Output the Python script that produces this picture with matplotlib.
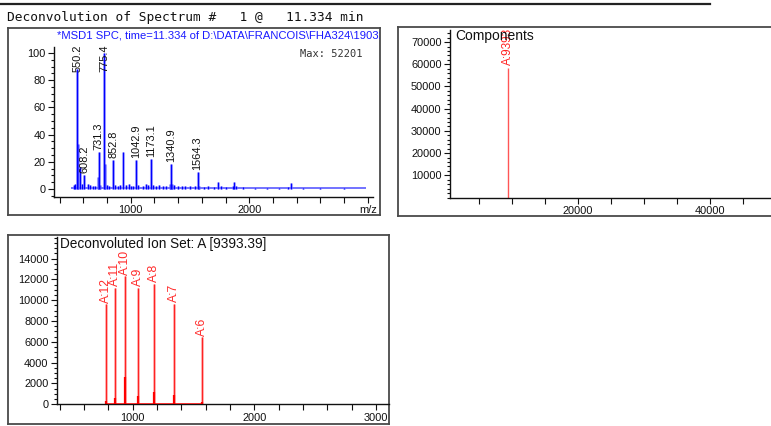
import matplotlib
matplotlib.use("Agg")
import matplotlib.pyplot as plt
from matplotlib.lines import Line2D
from matplotlib.ticker import MultipleLocator, FixedLocator, FixedFormatter

plt.rcParams["font.family"] = ["Liberation Sans", "DejaVu Sans"]

# ---------------- data ----------------
# raw MS spectrum, relative abundance (%), labelled peaks
peak_mz = [550.2, 608.2, 731.3, 775.4, 852.8, 1042.9, 1173.1, 1340.9, 1564.3]
peak_int = [88.0, 10.5, 27.5, 100.0, 21.0, 21.5, 22.0, 18.0, 12.5]
max_count = 52201

# unlabelled peaks and noise of the raw spectrum
minor_mz = [520, 531, 556, 572, 590, 641, 656, 681, 700, 722, 745, 785, 801,
            820, 870, 890, 910, 938, 960, 985, 1001, 1021, 1065, 1100, 1125,
            1150, 1190, 1210, 1240, 1270, 1300, 1330, 1350, 1366, 1400, 1430,
            1460, 1500, 1540, 1580, 1620, 1650, 1700, 1733, 1760, 1800, 1860,
            1874, 1890, 1950, 2050, 2150, 2250, 2330, 2349, 2450, 2600, 2800]
minor_int = [3.0, 4.0, 33.0, 16.0, 4.0, 4.0, 3.0, 2.5, 2.0, 9.0, 3.0, 18.0, 3.0,
             2.5, 3.0, 2.0, 3.0, 27.5, 3.0, 4.0, 2.5, 2.0, 3.0, 2.5, 4.0,
             3.0, 3.0, 2.0, 3.0, 2.5, 2.0, 4.0, 4.0, 3.0, 2.0, 2.5,
             2.0, 2.5, 2.0, 2.5, 1.5, 2.0, 1.5, 5.0, 2.0, 1.5, 2.5,
             5.0, 2.5, 1.5, 1.0, 1.0, 1.0, 1.5, 4.5, 1.0, 1.0, 1.0]
scan_range = [500, 2985]

# deconvolution result
component_mass = [9393.39]
component_int = [58500]
component_names = ["A:9393.39"]

# ion set A: charge-state ions
ion_names = ["A:12", "A:11", "A:10", "A:9", "A:8", "A:7", "A:6"]
ion_mz = [783.8, 855.0, 940.3, 1044.7, 1175.2, 1342.9, 1566.6]
ion_int = [9600, 11200, 12300, 11200, 11600, 9650, 6450]
ion_core = [300, 600, 2600, 800, 1200, 900, 200]

# ---------------- layout helpers ----------------
W, H = 771, 426
fig = plt.figure(figsize=(W / 100, H / 100), dpi=100)


def box(x0, y0, x1, y1):
    return [x0 / W, 1 - y1 / H, (x1 - x0) / W, (y1 - y0) / H]


def frame(x0, y0, x1, y1):
    f = fig.add_axes(box(x0, y0, x1, y1), zorder=0)
    f.set_xticks([])
    f.set_yticks([])
    f.set_xlim(0, 1)
    f.set_ylim(0, 1)
    f.patch.set_alpha(0)
    for s in f.spines.values():
        s.set_color("#4a4a4a")
        s.set_linewidth(1.3)
    return f


def style(ax):
    ax.patch.set_alpha(0)
    for s in ("top", "right"):
        ax.spines[s].set_visible(False)
    for s in ("left", "bottom"):
        ax.spines[s].set_color("#111111")
        ax.spines[s].set_linewidth(1.0)
    ax.tick_params(which="both", direction="out", colors="#111111",
                   labelsize=7.9, width=0.8, pad=1.5)
    ax.tick_params(which="major", length=4.5)
    ax.tick_params(which="minor", length=2.5)


# header
fig.add_artist(Line2D([0, 710 / W], [1 - 4 / H, 1 - 4 / H], color="#222222", lw=1.6))
fig.text(7 / W, 1 - 17 / H, "Deconvolution of Spectrum #   1 @   11.334 min",
         family="DejaVu Sans Mono", fontsize=9.3, va="center", ha="left", color="#111111")

# ---------------- panel 1 : raw spectrum ----------------
f1 = frame(8, 28, 380, 215)
f1.text(49 / 372, 1 - 7 / 187,
        "*MSD1 SPC, time=11.334 of D:\\DATA\\FRANCOIS\\FHA324\\190328.D   ES-API, Pos, Scan",
        color="#1a1aff", fontsize=8.1, va="center", ha="left", clip_on=True)

ax1 = fig.add_axes(box(54, 47, 373, 197), zorder=1)
style(ax1)
ax1.set_xlim(353, 3044)
ax1.set_ylim(-5.9, 104.4)
ax1.yaxis.set_major_locator(MultipleLocator(20))
ax1.yaxis.set_minor_locator(MultipleLocator(5))
xt = list(range(400, 3001, 200))
ax1.xaxis.set_major_locator(FixedLocator(xt))
ax1.xaxis.set_major_formatter(FixedFormatter(
    ["1000" if v == 1000 else "2000" if v == 2000 else "m/z" if v == 3000 else "" for v in xt]))
ax1.tick_params(axis="x", length=4)

blue = "#0000ff"
ax1.hlines(0.5, scan_range[0], scan_range[1], color="#5a5aff", lw=1.2)
ax1.vlines(minor_mz, 0, minor_int, color="#8080ff", lw=2.2, alpha=0.55)
ax1.vlines(minor_mz, 0, minor_int, color=blue, lw=0.9)
ax1.vlines(peak_mz, 0, peak_int, color="#8080ff", lw=2.2, alpha=0.55)
ax1.vlines(peak_mz, 0, peak_int, color=blue, lw=1.0)

cap1 = 85.8
for mz, h in zip(peak_mz, peak_int):
    ax1.text(mz, min(h + 1.5, cap1), f"{mz:.1f}", rotation=90, ha="center",
             va="bottom", fontsize=7.9, color="#111111")
ax1.text(0.966, 0.955, f"Max: {max_count}", transform=ax1.transAxes,
         family="DejaVu Sans Mono", fontsize=7.5, ha="right", va="center",
         color="#333333")

# ---------------- panel 2 : components ----------------
frame(398, 27, 800, 216)
ax2 = fig.add_axes(box(450, 30, 771, 197.5), zorder=1)
style(ax2)
ax2.set_xlim(600, 49240)
ax2.set_ylim(0, 75450)
ax2.yaxis.set_major_locator(FixedLocator(range(10000, 70001, 10000)))
ax2.yaxis.set_minor_locator(MultipleLocator(2000))
ax2.xaxis.set_major_locator(FixedLocator([20000, 40000]))
ax2.xaxis.set_minor_locator(MultipleLocator(5000))
ax2.tick_params(axis="x", which="minor", length=4.5)
ax2.vlines(component_mass, 0, component_int, color="#ff5555", lw=1.0)
for m, h, name in zip(component_mass, component_int, component_names):
    ax2.text(m, h + 1200, name, rotation=90, ha="center", va="bottom",
             fontsize=8.5, color="#ff2222", clip_on=True)
ax2.text(455 / W, 1 - 36 / H, "Components", transform=fig.transFigure,
         fontsize=10, ha="left", va="center", color="#111111")

# ---------------- panel 3 : deconvoluted ion set ----------------
frame(8, 235, 389, 424)
ax3 = fig.add_axes(box(57, 237, 389, 404.3), zorder=1)
style(ax3)
ax3.set_xlim(378, 3107)
ax3.set_ylim(0, 16070)
ax3.yaxis.set_major_locator(FixedLocator(range(0, 14001, 2000)))
ax3.yaxis.set_minor_locator(MultipleLocator(500))
ax3.xaxis.set_major_locator(FixedLocator([1000, 2000, 3000]))
ax3.xaxis.set_minor_locator(MultipleLocator(200))
ax3.tick_params(axis="x", which="minor", length=4.5)

red = "#ff0000"
ax3.hlines(0, ion_mz[0], ion_mz[-1], color=red, lw=1.8, zorder=3)
ax3.vlines(ion_mz, 0, ion_int, color="#ff7070", lw=1.8, alpha=0.75)
ax3.vlines(ion_mz, 0, ion_int, color="#ff2020", lw=0.7)
ax3.vlines(ion_mz, 0, ion_core, color=red, lw=1.6)
for mz, h, name in zip(ion_mz, ion_int, ion_names):
    ax3.text(mz, h + 150, name, rotation=90, ha="center", va="bottom",
             fontsize=8.8, color="#ff2a2a", clip_on=True)
ax3.text(60 / W, 1 - 244 / H, "Deconvoluted Ion Set: A [9393.39]",
         transform=fig.transFigure, fontsize=9.8, ha="left", va="center",
         color="#111111")

fig.savefig("out.png", dpi=100)
